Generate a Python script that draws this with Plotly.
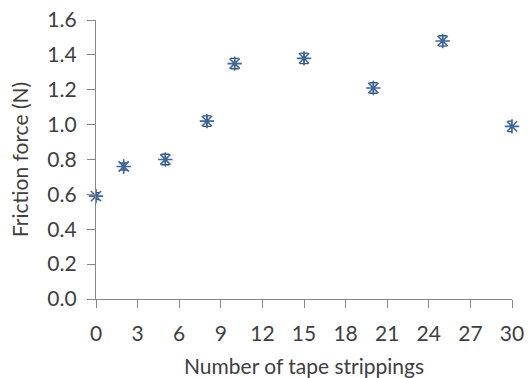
import plotly.graph_objects as go

# Friction force measured after successive tape strippings
strippings = [0, 2, 5, 8, 10, 15, 20, 25, 30]
friction_n = [0.59, 0.76, 0.80, 1.02, 1.35, 1.38, 1.21, 1.48, 0.99]
friction_err = [0.02, 0.02, 0.03, 0.03, 0.03, 0.03, 0.03, 0.03, 0.03]

x_ticks = [0, 3, 6, 9, 12, 15, 18, 21, 24, 27, 30]
y_ticks = [0.0, 0.2, 0.4, 0.6, 0.8, 1.0, 1.2, 1.4, 1.6]

axis_grey = "#878787"
text_grey = "#404040"
font_family = "Lato, 'Open Sans', sans-serif"

fig = go.Figure()
fig.add_trace(go.Scatter(
    x=strippings,
    y=friction_n,
    mode="markers",
    marker=dict(symbol="asterisk", size=12, color="#4A73AA",
                line=dict(width=1.6, color="#3E6699")),
    error_y=dict(type="data", array=friction_err, visible=True,
                 color="#2F4F7A", thickness=1.4, width=4),
    cliponaxis=False,
    showlegend=False,
))

axis_common = dict(
    showgrid=False, zeroline=False, showline=True, automargin=False,
    linecolor=axis_grey, linewidth=1.3,
    ticks="outside", ticklen=8, tickwidth=1.3, tickcolor=axis_grey,
    tickfont=dict(family=font_family, size=21, color=text_grey),
)

fig.update_layout(
    width=528, height=378,
    margin=dict(l=96, r=16, t=20, b=79),
    paper_bgcolor="white", plot_bgcolor="white",
    font=dict(family=font_family, color=text_grey),
    xaxis=dict(
        range=[0, 30], tickvals=x_ticks,
        ticktext=[str(v) for v in x_ticks],
        ticklabelstandoff=8,
        title=dict(text="Number of tape strippings",
                   font=dict(family=font_family, size=21, color=text_grey),
                   standoff=14),
        **axis_common,
    ),
    yaxis=dict(
        range=[0, 1.6], tickvals=y_ticks,
        ticktext=[f"{v:.1f}" for v in y_ticks],
        ticklabelstandoff=6,
        title=dict(text="Friction force (N)",
                   font=dict(family=font_family, size=21, color=text_grey),
                   standoff=12),
        **axis_common,
    ),
)

fig.write_html("out.html")
